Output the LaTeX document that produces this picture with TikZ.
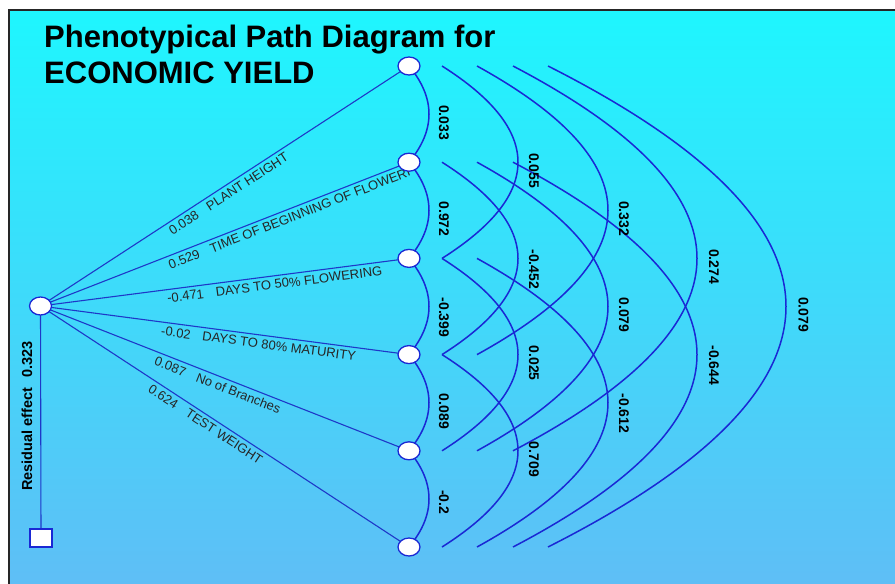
\documentclass[tikz,border=0pt]{standalone}
\usepackage{fontspec}
\setmainfont{Liberation Sans}
\usetikzlibrary{shapes.geometric}
\definecolor{bgtop}{RGB}{30,246,254}
\definecolor{bgbot}{RGB}{95,190,246}
\definecolor{pblue}{RGB}{26,40,212}
\definecolor{lblue}{RGB}{30,56,200}
\pgfdeclarelayer{bg}
\pgfsetlayers{bg,main}
\newcommand{\pdarc}[4]{%
  \pgfmathsetmacro{\pdcx}{4*#4/3}%
  \pgfmathsetmacro{\pdcy}{96.2*(#2-#1)/3}%
  \draw[arcline] ([xshift=#3pt]n#1.center) .. controls +(\pdcx,\pdcy) and +(\pdcx,-\pdcy) .. ([xshift=#3pt]n#2.center);%
}
\begin{document}
\begin{tikzpicture}[x=1pt,y=-1pt,
  pnode/.style={ellipse, draw=pblue, fill=white, line width=1.3pt, minimum width=22pt, minimum height=18pt, inner sep=0pt},
  arcline/.style={pblue, line width=1.5pt},
  pathline/.style={lblue, line width=1.1pt},
  coef/.style={font=\bfseries\fontsize{14}{16}\selectfont, text=black, rotate=-90, anchor=west, inner sep=0pt},
  lbl/.style={font=\fontsize{13}{15}\selectfont, text=black!85, sloped, anchor=north west, inner sep=3.5pt},
  ttl/.style={font=\bfseries\fontsize{31}{36}\selectfont, anchor=base west, inner sep=0pt}
]
\useasboundingbox (0,0) rectangle (895,584);

% nodes
\node[pnode] (l) at (40.5,306) {};
\foreach \i in {1,...,6}{
  \pgfmathsetmacro{\yy}{66+96.2*(\i-1)}
  \node[pnode] (n\i) at (409,\yy) {};
}
\node[draw=pblue, fill=white, line width=1.3pt, minimum width=22pt, minimum height=18pt, inner sep=0pt] (sq) at (41,538) {};

% title
\node[ttl] (t1) at (44,47) {Phenotypical Path Diagram for};
\node[ttl] (t2) at (44,83) {ECONOMIC YIELD};

\begin{pgfonlayer}{bg}
  \fill[white] (0,0) rectangle (895,584);
  \shade[top color=bgtop, bottom color=bgbot] (9,10) rectangle (897,586);
  \draw[black!85, line width=1.2pt] (897,10) -- (9,10) -- (9,586);

  % paths from the left node
  \draw[pathline] (l.center) -- (n1.center) node[lbl, pos=0.33] {0.038\hspace{12pt}PLANT HEIGHT};
  \draw[pathline] (l.center) -- (n2.center) node[lbl, pos=0.33] {0.529\hspace{12pt}TIME OF BEGINNING OF FLOWERI};
  \draw[pathline] (l.center) -- (n3.center) node[lbl, pos=0.33] {-0.471\hspace{12pt}DAYS TO 50\% FLOWERING};
  \draw[pathline] (l.center) -- (n4.center) node[lbl, pos=0.32] {-0.02\hspace{12pt}DAYS TO 80\% MATURITY};
  \draw[pathline] (l.center) -- (n5.center) node[lbl, pos=0.31] {0.087\hspace{12pt}No of Branches};
  \draw[pathline] (l.center) -- (n6.center) node[lbl, pos=0.30] {0.624\hspace{12pt}TEST WEIGHT};
  \draw[pathline] (l.center) -- (sq.center);

  % correlation arcs
  \pdarc{1}{2}{0}{20}
  \pdarc{2}{3}{0}{20}
  \pdarc{3}{4}{0}{20}
  \pdarc{4}{5}{0}{20}
  \pdarc{5}{6}{0}{20}
  \pdarc{1}{3}{33}{76}
  \pdarc{2}{4}{33}{76}
  \pdarc{3}{5}{33}{76}
  \pdarc{4}{6}{33}{76}
  \pdarc{1}{4}{68}{131}
  \pdarc{2}{5}{68}{131}
  \pdarc{3}{6}{68}{131}
  \pdarc{1}{5}{104}{184}
  \pdarc{2}{6}{104}{184}
  \pdarc{1}{6}{139}{238}
\end{pgfonlayer}

% coefficients
\node[coef] at (444,105) {0.033};
\node[coef] at (444,201.2) {0.972};
\node[coef] at (444,297.4) {-0.399};
\node[coef] at (444,393.6) {0.089};
\node[coef] at (444,489.8) {-0.2};
\node[coef] at (534,153) {0.055};
\node[coef] at (534,249.2) {-0.452};
\node[coef] at (534,345.4) {0.025};
\node[coef] at (534,441.6) {0.709};
\node[coef] at (624,201) {0.332};
\node[coef] at (624,297.2) {0.079};
\node[coef] at (624,393.4) {-0.612};
\node[coef] at (714,249) {0.274};
\node[coef] at (714,345.2) {-0.644};
\node[coef] at (803.5,297) {0.079};

% residual
\node[font=\bfseries\fontsize{14.5}{16}\selectfont, rotate=90, inner sep=0pt] (res) at (27,416) {Residual effect\hspace{10pt}0.323};
\end{tikzpicture}
\end{document}
